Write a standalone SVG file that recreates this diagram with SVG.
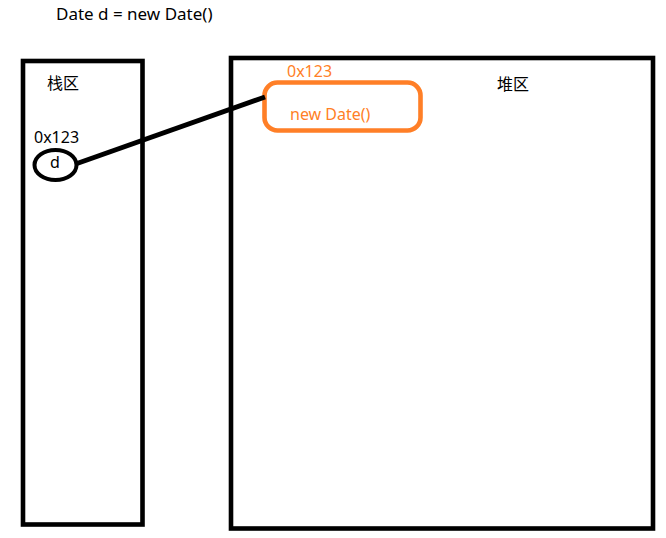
<svg xmlns="http://www.w3.org/2000/svg" width="666" height="538" viewBox="0 0 666 538">
<style>
.t{font-family:"Noto Sans","Noto Sans CJK SC",sans-serif;font-size:16px;fill:#000}
.o{fill:#FF7F27}
.box{fill:none;stroke:#000;stroke-width:4.6}
</style>
<rect width="666" height="538" fill="#fff"/>
<text class="t" x="56" y="20" style="font-size:17px">Date d = new Date()</text>
<g id="stack">
<rect class="box" x="23" y="61" width="119.5" height="463.5"/>
<text class="t" x="47" y="89">栈区</text>
</g>
<g id="heap">
<rect class="box" x="231" y="58" width="422" height="470.5"/>
<text class="t" x="497" y="90">堆区</text>
</g>
<g id="obj">
<rect x="264.5" y="82.5" width="156" height="48" rx="13" fill="none" stroke="#FF7F27" stroke-width="4.6"/>
<text class="t o" x="287" y="77">0x123</text>
<text class="t o" x="290" y="120">new Date()</text>
</g>
<g id="var">
<text class="t" x="34" y="143">0x123</text>
<ellipse cx="55.5" cy="165" rx="21" ry="15" fill="none" stroke="#000" stroke-width="4"/>
<text class="t" x="50" y="168">d</text>
</g>
<g id="connectors">
<line x1="77" y1="163.5" x2="265" y2="97" stroke="#000" stroke-width="5"/>
</g>
</svg>
